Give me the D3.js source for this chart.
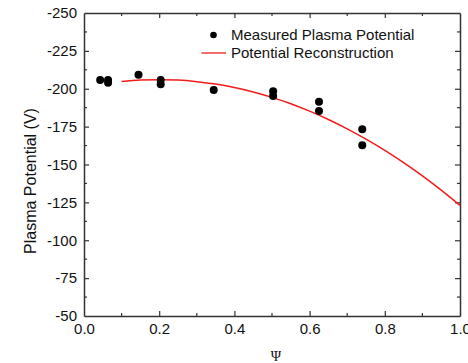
<!DOCTYPE html>
<html>
<head>
<meta charset="utf-8">
<script src="https://cdn.jsdelivr.net/npm/d3@7"></script>
<style>
  body { margin: 0; background: #fff; }
  svg { display: block; font-family: Arial, "Liberation Sans", sans-serif; }
</style>
</head>
<body>
<svg width="468" height="363"></svg>
<script>
// measured points
var measuredX = [0.043, 0.064, 0.064, 0.145, 0.204, 0.204, 0.345, 0.503, 0.503, 0.625, 0.625, 0.740, 0.740];
var measuredY = [-205.8, -205.8, -204.0, -209.3, -205.8, -202.9, -199.2, -198.3, -195.2, -191.5, -185.3, -173.2, -162.7];

// reconstruction curve
var curveX = [0.10, 0.15, 0.20, 0.25, 0.30, 0.35, 0.40, 0.45, 0.50, 0.55, 0.60, 0.65, 0.70, 0.75, 0.80, 0.85, 0.90, 0.95, 1.00];
var curveY = [-204.8, -205.7, -206.0, -205.7, -204.7, -203.1, -200.8, -197.9, -194.3, -190.1, -185.2, -179.7, -173.5, -166.7, -159.3, -151.2, -142.5, -133.1, -123.0];

var xTicks = [0, 0.2, 0.4, 0.6, 0.8, 1.0];
var yTicks = [-250, -225, -200, -175, -150, -125, -100, -75, -50];

var svg = d3.select('svg');
var plotLeft = 84, plotRight = 460, plotTop = 13, plotBottom = 316;

var x = d3.scaleLinear().domain([0, 1]).range([plotLeft, plotRight]);
var y = d3.scaleLinear().domain([-250, -50]).range([plotTop, plotBottom]);

var axisColor = '#333';
var fontSans = 'Arial, "Liberation Sans", sans-serif';

// minor ticks
var xMinor = [0.1, 0.3, 0.5, 0.7, 0.9];
var yMinor = [-237.5, -212.5, -187.5, -162.5, -137.5, -112.5, -87.5, -62.5];

// bottom axis
var gb = svg.append('g').attr('transform', 'translate(0,' + plotBottom + ')')
  .call(d3.axisBottom(x).tickValues(xTicks).tickFormat(function(d){ return d.toFixed(1); })
    .tickSizeInner(-5).tickSizeOuter(0).tickPadding(7));
gb.selectAll('.tick line').filter(function(d){ return d === 0 || d === 1; }).remove();
gb.selectAll('.tick text').attr('font-size', 15).attr('fill', '#111').attr('font-family', fontSans);
gb.select('.domain').attr('stroke', axisColor).attr('stroke-width', 1.5);
gb.selectAll('.tick line').attr('stroke', axisColor).attr('stroke-width', 1.2);

// top axis
var gt = svg.append('g').attr('transform', 'translate(0,' + plotTop + ')')
  .call(d3.axisTop(x).tickValues(xTicks.slice(1, -1)).tickFormat('').tickSizeInner(-5).tickSizeOuter(0));
gt.select('.domain').attr('stroke', axisColor).attr('stroke-width', 1.5);
gt.selectAll('.tick line').attr('stroke', axisColor).attr('stroke-width', 1.2);

// left axis
var gl = svg.append('g').attr('transform', 'translate(' + plotLeft + ',0)')
  .call(d3.axisLeft(y).tickValues(yTicks).tickFormat(function(d){ return String(d); })
    .tickSizeInner(-5).tickSizeOuter(0).tickPadding(7));
gl.selectAll('.tick line').filter(function(d){ return d === -250 || d === -50; }).remove();
gl.selectAll('.tick text').attr('font-size', 15).attr('fill', '#111').attr('font-family', fontSans);
gl.select('.domain').attr('stroke', axisColor).attr('stroke-width', 1.5);
gl.selectAll('.tick line').attr('stroke', axisColor).attr('stroke-width', 1.2);

// right axis
var gr = svg.append('g').attr('transform', 'translate(' + plotRight + ',0)')
  .call(d3.axisRight(y).tickValues(yTicks.slice(1, -1)).tickFormat('').tickSizeInner(-5).tickSizeOuter(0));
gr.select('.domain').attr('stroke', axisColor).attr('stroke-width', 1.5);
gr.selectAll('.tick line').attr('stroke', axisColor).attr('stroke-width', 1.2);

// minor ticks
[plotBottom, plotTop].forEach(function(yy){
  var dir = yy === plotBottom ? -3 : 3;
  svg.selectAll(null).data(xMinor).enter().append('line')
    .attr('x1', function(d){ return x(d); }).attr('x2', function(d){ return x(d); })
    .attr('y1', yy).attr('y2', yy + dir)
    .attr('stroke', axisColor).attr('stroke-width', 1.2);
});
[plotLeft, plotRight].forEach(function(xx){
  var dir = xx === plotLeft ? 3 : -3;
  svg.selectAll(null).data(yMinor).enter().append('line')
    .attr('y1', function(d){ return y(d); }).attr('y2', function(d){ return y(d); })
    .attr('x1', xx).attr('x2', xx + dir)
    .attr('stroke', axisColor).attr('stroke-width', 1.2);
});

// reconstruction line
var line = d3.line()
  .x(function(d){ return x(d[0]); })
  .y(function(d){ return y(d[1]); })
  .curve(d3.curveMonotoneX);
svg.append('path')
  .datum(d3.zip(curveX, curveY))
  .attr('d', line)
  .attr('fill', 'none')
  .attr('stroke', '#f21b1b')
  .attr('stroke-width', 1.5);

// measured points
svg.selectAll('circle.pt')
  .data(d3.zip(measuredX, measuredY))
  .enter().append('circle')
    .attr('class', 'pt')
    .attr('cx', function(d){ return x(d[0]); })
    .attr('cy', function(d){ return y(d[1]); })
    .attr('r', 4)
    .attr('fill', '#000');

// legend
svg.append('circle').attr('cx', 213.5).attr('cy', 35).attr('r', 3.3).attr('fill', '#000');
svg.append('text').attr('x', 231).attr('y', 39.5).attr('font-size', 15).attr('fill', '#111')
  .text('Measured Plasma Potential');
svg.append('line').attr('x1', 201.5).attr('x2', 226).attr('y1', 53).attr('y2', 53)
  .attr('stroke', '#f21b1b').attr('stroke-width', 1.3);
svg.append('text').attr('x', 231).attr('y', 57.5).attr('font-size', 15).attr('fill', '#111')
  .text('Potential Reconstruction');

// axis titles
svg.append('text')
  .attr('transform', 'translate(36,' + 181 + ') rotate(-90)')
  .attr('text-anchor', 'middle')
  .attr('font-size', 16).attr('fill', '#111')
  .text('Plasma Potential (V)');
svg.append('text')
  .attr('x', 276).attr('y', 361)
  .attr('text-anchor', 'middle')
  .attr('font-family', '"Liberation Serif", "DejaVu Serif", serif')
  .attr('font-size', 14).attr('fill', '#111')
  .text('Ψ');
</script>
</body>
</html>
